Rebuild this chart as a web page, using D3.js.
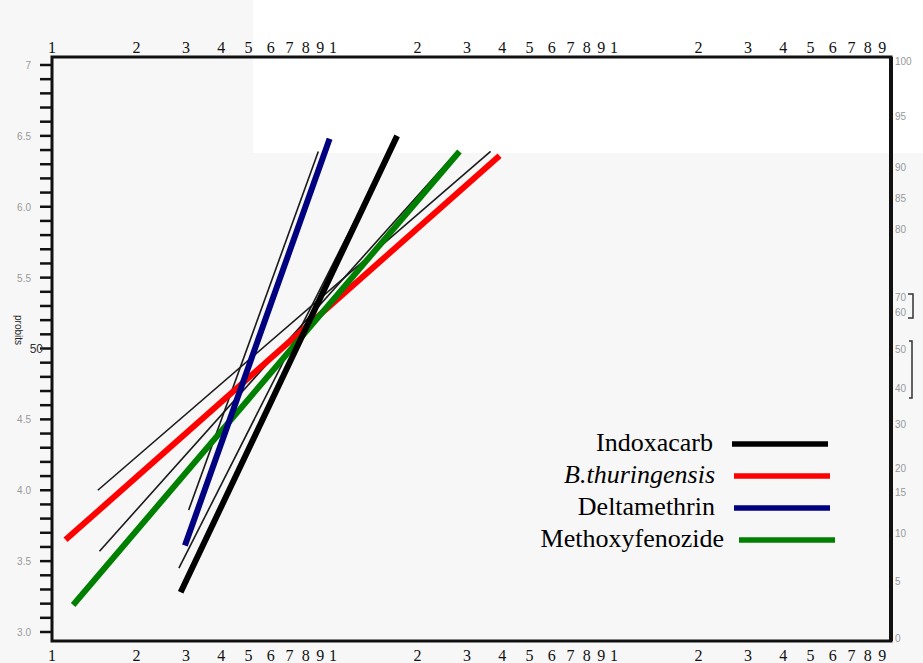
<!DOCTYPE html>
<html lang="en">
<head>
<meta charset="utf-8">
<script src="https://d3js.org/d3.v7.min.js"></script>
<style>
  body { margin: 0; background: #f7f7f7; }
  svg { display: block; }
</style>
</head>
<body>
<script>
// insecticides and their fitted dose-probit lines (start / end of each line)
var names = ["Indoxacarb", "B.thuringensis", "Deltamethrin", "Methoxyfenozide"];
var colors = ["#000000", "#ff0000", "#000080", "#008000"];
var doseStart = [2.80, 1.09, 2.90, 1.16];
var probitStart = [3.28, 3.65, 3.61, 3.19];
var doseEnd = [16.5, 38.2, 9.49, 27.5];
var probitEnd = [6.50, 6.36, 6.48, 6.39];

// the thin hand-drawn lines from the original scan
var thinDoseA = [1.42, 1.44, 2.99, 2.76];
var thinProbitA = [4.00, 3.57, 3.86, 3.45];
var thinDoseB = [35.5, 27.0, 8.65, 16.2];
var thinProbitB = [6.39, 6.39, 6.39, 6.46];

// axis labels
var doseTicks = [1,2,3,4,5,6,7,8,9,10,20,30,40,50,60,70,80,90,100,200,300,400,500,600,700,800,900];
var probitLabels = ["3.0","3.5","4.0","4.5","50","5.5","6.0","6.5","7"];
var probitLabelVals = [3.0,3.5,4.0,4.5,5.0,5.5,6.0,6.5,7.0];
var pctLabels = ["100","95","90","85","80","70","60","50","40","30","20","15","10","5","0"];
var pctProbit = [7.03,6.64,6.28,6.06,5.84,5.36,5.26,5.0,4.72,4.47,4.16,3.99,3.70,3.36,2.96];

var width = 923, height = 663;
var frame = {left: 52, right: 891, top: 57, bottom: 641};

var svg = d3.select("body").append("svg")
    .attr("width", width)
    .attr("height", height);

// whited-out patch of the scan
svg.append("rect")
    .attr("x", 253).attr("y", 0)
    .attr("width", width - 253).attr("height", 153)
    .attr("fill", "#ffffff");

var x = d3.scaleLog().domain([1, 1000]).range([55, 898]);
var y = d3.scaleLinear().domain([3, 7]).range([632, 65]);

// frame
svg.append("rect")
    .attr("x", frame.left).attr("y", frame.top)
    .attr("width", frame.right - frame.left)
    .attr("height", frame.bottom - frame.top)
    .attr("fill", "none")
    .attr("stroke", "#111")
    .attr("stroke-width", 3);
svg.append("line")
    .attr("x1", frame.right).attr("x2", frame.right)
    .attr("y1", frame.top).attr("y2", frame.bottom)
    .attr("stroke", "#111").attr("stroke-width", 4);

// left probit ticks
svg.append("g").selectAll("line")
    .data(d3.range(30, 71).map(function(d) { return d / 10; }))
    .enter().append("line")
    .attr("x1", frame.left - 12).attr("x2", frame.left)
    .attr("y1", function(d) { return y(d); })
    .attr("y2", function(d) { return y(d); })
    .attr("stroke", "#111").attr("stroke-width", 2.5);

svg.append("g").selectAll("text")
    .data(probitLabelVals)
    .enter().append("text")
    .attr("x", function(d) { return d === 5 ? 43 : 31; })
    .attr("y", function(d) { return y(d) + 4; })
    .attr("text-anchor", "end")
    .attr("font-family", "Liberation Sans, Arial, sans-serif")
    .attr("font-size", function(d) { return d === 5 ? 12 : 10; })
    .attr("fill", function(d) { return d === 5 ? "#333" : "#999"; })
    .text(function(d, i) { return probitLabels[i]; });

svg.append("text")
    .attr("transform", "translate(15,330) rotate(90)")
    .attr("text-anchor", "middle")
    .attr("font-family", "Liberation Sans, Arial, sans-serif")
    .attr("font-size", 10)
    .attr("fill", "#222")
    .text("probits");

// right percent labels
svg.append("g").selectAll("text")
    .data(pctProbit)
    .enter().append("text")
    .attr("x", frame.right + 4)
    .attr("y", function(d) { return y(d) + 4; })
    .attr("font-family", "Liberation Sans, Arial, sans-serif")
    .attr("font-size", 10)
    .attr("fill", "#999")
    .text(function(d, i) { return pctLabels[i]; });

// brackets beside 70/60 and 50/40
svg.append("path")
    .attr("d", "M908,294 L913,294 L913,318 L908,318 M909,341 L912,341 L912,398 L909,398")
    .attr("fill", "none").attr("stroke", "#333").attr("stroke-width", 1.5);

// top and bottom log-cycle labels
function digit(d) { return String(Math.round(d / Math.pow(10, Math.floor(Math.log10(d) + 1e-9)))); }

svg.append("g").selectAll("text")
    .data(doseTicks)
    .enter().append("text")
    .attr("x", function(d) { return x(d) - 3; })
    .attr("y", 53)
    .attr("text-anchor", "middle")
    .attr("font-family", "Liberation Serif, Times New Roman, serif")
    .attr("font-size", 16)
    .attr("fill", "#111")
    .text(digit);

svg.append("g").selectAll("text")
    .data(doseTicks)
    .enter().append("text")
    .attr("x", function(d) { return x(d) - 3; })
    .attr("y", 661)
    .attr("text-anchor", "middle")
    .attr("font-family", "Liberation Serif, Times New Roman, serif")
    .attr("font-size", 16)
    .attr("fill", "#111")
    .text(digit);

// thin scanned lines
svg.append("g").selectAll("line")
    .data(thinDoseA)
    .enter().append("line")
    .attr("x1", function(d) { return x(d); })
    .attr("y1", function(d, i) { return y(thinProbitA[i]); })
    .attr("x2", function(d, i) { return x(thinDoseB[i]); })
    .attr("y2", function(d, i) { return y(thinProbitB[i]); })
    .attr("stroke", "#1a1a1a")
    .attr("stroke-width", 1.6);

// fitted lines, drawn red, green, blue, black
var order = [1, 3, 2, 0];
svg.append("g").selectAll("line")
    .data(order)
    .enter().append("line")
    .attr("x1", function(i) { return x(doseStart[i]); })
    .attr("y1", function(i) { return y(probitStart[i]); })
    .attr("x2", function(i) { return x(doseEnd[i]); })
    .attr("y2", function(i) { return y(probitEnd[i]); })
    .attr("stroke", function(i) { return colors[i]; })
    .attr("stroke-width", 6);

// legend
var legendY = [444, 476, 508, 540];
var legendTextX = [713, 715, 715, 724];
var legendLineX = [732, 734, 734, 739];

var legend = svg.append("g").selectAll("g")
    .data(names)
    .enter().append("g");

legend.append("text")
    .attr("x", function(d, i) { return legendTextX[i]; })
    .attr("y", function(d, i) { return legendY[i] + 7; })
    .attr("text-anchor", "end")
    .attr("font-family", "Liberation Serif, Times New Roman, serif")
    .attr("font-size", 26)
    .attr("font-style", function(d, i) { return i === 1 ? "italic" : "normal"; })
    .attr("fill", "#000")
    .text(function(d) { return d; });

legend.append("line")
    .attr("x1", function(d, i) { return legendLineX[i]; })
    .attr("x2", function(d, i) { return legendLineX[i] + 96; })
    .attr("y1", function(d, i) { return legendY[i]; })
    .attr("y2", function(d, i) { return legendY[i]; })
    .attr("stroke", function(d, i) { return colors[i]; })
    .attr("stroke-width", 5.5);
</script>
</body>
</html>
